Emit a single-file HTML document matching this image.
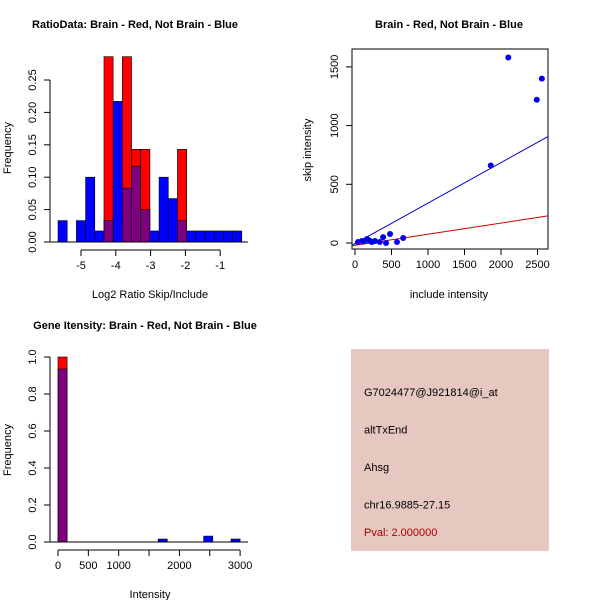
<!DOCTYPE html>
<html><head><meta charset="utf-8"><style>
body{margin:0;background:#fff}
svg text{font-family:"Liberation Sans",sans-serif;font-size:11px}
</style></head><body>
<svg id="c" width="600" height="600" xmlns="http://www.w3.org/2000/svg"></svg>
<script>
// Panel 1 data
const ratioBinStart=-5.66, ratioBinWidth=0.264;
const ratioBlue=[0.033,0,0.033,0.10,0.017,0.033,0.217,0.083,0.117,0.05,0.017,0.10,0.067,0.033,0.017,0.017,0.017,0.017,0.017,0.017];
const ratioRed=[0,0,0,0,0,0.286,0,0.286,0.143,0.143,0,0,0,0.143,0,0,0,0,0,0];
const ratioXTicks=[-5,-4,-3,-2,-1];
const ratioYTicks=[0,0.05,0.10,0.15,0.20,0.25];
// Panel 2 data
const scatterX=[40,95,165,230,275,340,385,425,480,575,660,1860,2100,2490,2560,150,200,120];
const scatterY=[8,17,34,8,17,8,50,0,77,8,43,660,1580,1220,1400,25,20,15];
const blueFit=[-5,0.345];
const redFit=[-20,0.095];
const scXTicks=[0,500,1000,1500,2000,2500];
const scYTicks=[0,500,1000,1500];
// Panel 3 data
const intBinWidth=150;
const intBlue=[0.935,0,0,0,0,0,0,0,0,0,0,0.016,0,0,0,0,0.032,0,0,0.016];
const intRed=[1.0,0,0,0,0,0,0,0,0,0,0,0,0,0,0,0,0,0,0,0];
const intXTicks=[0,500,1000,1500,2000,2500,3000];
const intXLabels=["0","500","1000","","2000","","3000"];
const intYTicks=[0,0.2,0.4,0.6,0.8,1.0];
const infoLines=["G7024477@J921814@i_at","altTxEnd","Ahsg","chr16.9885-27.15"];
const pval="Pval: 2.000000";

const svg=document.getElementById('c');
const NS="http://www.w3.org/2000/svg";
function mk(tag,at,txt){const e=document.createElementNS(NS,tag);for(const k in at)e.setAttribute(k,at[k]);if(txt!==undefined)e.textContent=txt;svg.appendChild(e);return e;}
function fmt(v,d){return v.toFixed(d);}

function hist(xs,ys,blue,red,start,w,name){
  for(let i=0;i<blue.length;i++){
    const b=blue[i],r=red[i];const x0=xs(start+i*w),x1=xs(start+(i+1)*w);
    const mn=Math.min(b,r),mx=Math.max(b,r);
    if(mx>0){const e=mk('rect',{x:x0,y:ys(mx),width:x1-x0,height:ys(0)-ys(mx),fill:r>b?'#ff0000':'#0000ff',stroke:'#000','stroke-width':0.6});
      
      }
    if(mn>0){const e=mk('rect',{x:x0,y:ys(mn),width:x1-x0,height:ys(0)-ys(mn),fill:'#7f007f',stroke:'#000','stroke-width':0.6});
      
      }
  }
}
function yaxis(x,ys,ticks,lab,d){
  mk('line',{x1:x,x2:x,y1:ys(ticks[0]),y2:ys(ticks[ticks.length-1]),stroke:'#000'});
  ticks.forEach(t=>{mk('line',{x1:x-6,x2:x,y1:ys(t),y2:ys(t),stroke:'#000'});
    const e=mk('text',{x:x-14,y:ys(t),'text-anchor':'middle',transform:`rotate(-90 ${x-14} ${ys(t)})`},lab(t));
    
    });
}
function xaxis(y,xs,ticks,labels){
  mk('line',{x1:xs(ticks[0]),x2:xs(ticks[ticks.length-1]),y1:y,y2:y,stroke:'#000'});
  ticks.forEach((t,i)=>{mk('line',{x1:xs(t),x2:xs(t),y1:y,y2:y+6,stroke:'#000'});
    const e=mk('text',{x:xs(t),y:y+19,'text-anchor':'middle'},labels[i]);
    
    });
}
function title(x,y,t,n){const e=mk('text',{x:x,y:y,'text-anchor':'middle','font-weight':'bold','font-size':'12'},t);
  
  }
function label(x,y,t,n,rot){const at={x:x,y:y,'text-anchor':'middle','font-size':'10'};if(rot)at.transform=`rotate(-90 ${x} ${y})`;const e=mk('text',at,t);
  
  }

// Panel 1
{const xs=v=>81+(v+5)*34.8, ys=v=>242-v*648;
 hist(xs,ys,ratioBlue,ratioRed,ratioBinStart,ratioBinWidth,'ratio');
 mk('line',{x1:50,x2:248,y1:242,y2:242,stroke:'#000'});
 yaxis(50,ys,ratioYTicks,t=>fmt(t,2));
 xaxis(250,xs,ratioXTicks,ratioXTicks.map(String));
 title(135,28,'RatioData: Brain - Red, Not Brain - Blue','ratio-title');
 label(150,298,'Log2 Ratio Skip/Include','ratio-x-title');
 label(11,148,'Frequency','ratio-y-title',true);}
// Panel 2
{const xs=v=>355+v*0.073, ys=v=>243-v*0.1174;
 mk('rect',{x:352,y:49,width:196,height:200,fill:'none',stroke:'#000'});
 const xa=-40,xb=2640;
 mk('line',{x1:xs(xa),y1:ys(blueFit[0]+blueFit[1]*xa),x2:xs(xb),y2:ys(blueFit[0]+blueFit[1]*xb),stroke:'#0000cc'});
 mk('line',{x1:xs(xa),y1:ys(redFit[0]+redFit[1]*xa),x2:xs(xb),y2:ys(redFit[0]+redFit[1]*xb),stroke:'#cc0000'});
 scatterX.forEach((x,i)=>{const e=mk('circle',{cx:xs(x),cy:ys(scatterY[i]),r:3,fill:'#0000ee'});
   
   });
 yaxis(352,ys,scYTicks,String);
 xaxis(249,xs,scXTicks,scXTicks.map(String));
 title(449,28,'Brain - Red, Not Brain - Blue','scatter-title');
 label(449,298,'include intensity','scatter-x-title');
 label(311,150,'skip intensity','scatter-y-title',true);}
// Panel 3
{const xs=v=>58+v*0.0607, ys=v=>542-v*185;
 hist(xs,ys,intBlue,intRed,0,intBinWidth,'intensity');
 mk('line',{x1:50,x2:248,y1:542,y2:542,stroke:'#000'});
 yaxis(50,ys,intYTicks,t=>fmt(t,1));
 xaxis(550,xs,intXTicks,intXLabels);
 title(145,329,'Gene Itensity: Brain - Red, Not Brain - Blue','intensity-title');
 label(150,598,'Intensity','intensity-x-title');
 label(11,450,'Frequency','intensity-y-title',true);}
// Panel 4
{const r=mk('rect',{x:351,y:349,width:198,height:202,fill:'#e6c8c1'});
 
 
 infoLines.forEach((t,i)=>{const e=mk('text',{x:364,y:396+i*37.5},t);
   
   });
 const p=mk('text',{x:364,y:536,fill:'#aa0000'},pval);
 
 }
</script>
</body></html>
